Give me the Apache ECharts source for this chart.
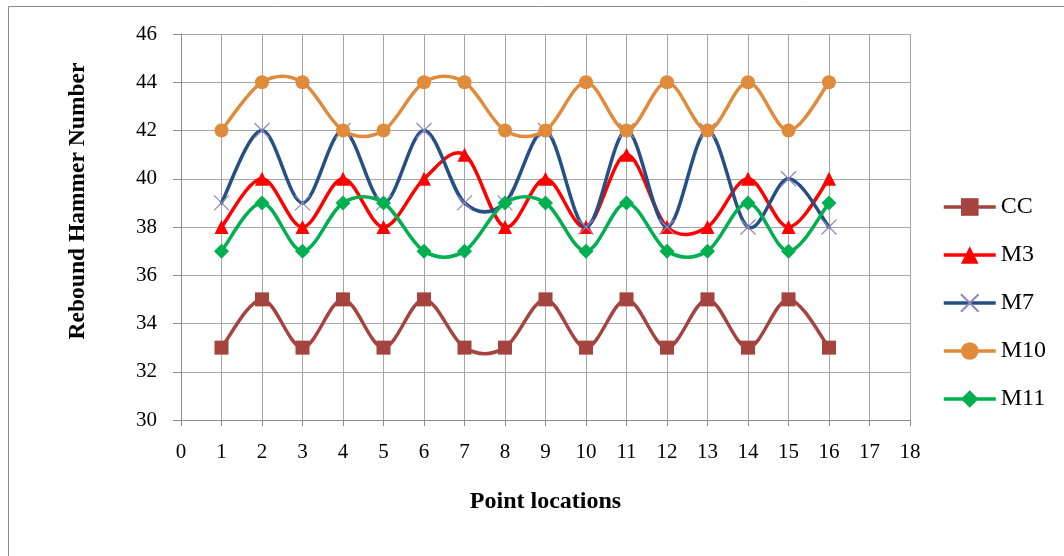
<!DOCTYPE html>
<html>
<head>
<meta charset="utf-8">
<script src="https://cdn.jsdelivr.net/npm/echarts@6/dist/echarts.min.js"></script>
<style>
html,body{margin:0;padding:0;background:#fff;}
#chart{width:1064px;height:556px;}
</style>
</head>
<body>
<div id="chart"></div>
<script>
// Rebound hammer readings at each point location
const locations = [1,2,3,4,5,6,7,8,9,10,11,12,13,14,15,16];
const cc  = [33,35,33,35,33,35,33,33,35,33,35,33,35,33,35,33];
const m3  = [38,40,38,40,38,40,41,38,40,38,41,38,38,40,38,40];
const m7  = [39,42,39,42,39,42,39,39,42,38,42,38,42,38,40,38];
const m10 = [42,44,44,42,42,44,44,42,42,44,42,44,42,44,42,44];
const m11 = [37,39,37,39,39,37,37,39,39,37,39,37,37,39,37,39];
const seriesNames = ['CC', 'M3', 'M7', 'M10', 'M11'];

const serif = '"Liberation Serif","DejaVu Serif",serif';
const pairs = arr => locations.map((x, i) => [x, arr[i]]);

// Cardinal (Catmull-Rom style) curve through the projected points,
// tension 1/6 so the curve may swing slightly past the readings.
function smoothPath(pts) {
  let d = 'M' + pts[0][0] + ' ' + pts[0][1];
  for (let i = 0; i < pts.length - 1; i++) {
    const p0 = pts[Math.max(i - 1, 0)];
    const p1 = pts[i];
    const p2 = pts[i + 1];
    const p3 = pts[Math.min(i + 2, pts.length - 1)];
    const c1x = p1[0] + (p2[0] - p0[0]) / 6, c1y = p1[1] + (p2[1] - p0[1]) / 6;
    const c2x = p2[0] - (p3[0] - p1[0]) / 6, c2y = p2[1] - (p3[1] - p1[1]) / 6;
    d += ' C' + c1x + ' ' + c1y + ' ' + c2x + ' ' + c2y + ' ' + p2[0] + ' ' + p2[1];
  }
  return d;
}

function curveSeries(arr, color, z) {
  return {
    type: 'custom',
    silent: true,
    z: z,
    data: pairs(arr),
    encode: { x: 0, y: 1 },
    renderItem: function (params, api) {
      if (params.dataIndex !== 0) return null;
      const pts = locations.map((x, i) => api.coord([x, arr[i]]));
      return {
        type: 'path',
        shape: { pathData: smoothPath(pts) },
        style: { fill: 'none', stroke: color, lineWidth: 3.5, lineJoin: 'round', lineCap: 'round' }
      };
    }
  };
}

function markerSeries(name, arr, color, symbol, size, z, itemStyle) {
  return {
    name: name,
    type: 'line',
    z: z,
    data: pairs(arr),
    symbol: symbol,
    symbolSize: size,
    showSymbol: true,
    lineStyle: { color: color, width: 3.5, opacity: 0 },
    itemStyle: itemStyle || { color: color },
    emphasis: { disabled: true }
  };
}

const specs = [
  { name: seriesNames[0], data: cc,  color: '#a5433f', symbol: 'rect',     size: 14 },
  { name: seriesNames[1], data: m3,  color: '#ff0000', symbol: 'triangle', size: 14 },
  { name: seriesNames[2], data: m7,  color: '#264f84', symbol: 'path://M0,0L10,10M10,0L0,10', size: 15,
    itemStyle: { color: 'rgba(0,0,0,0)', borderColor: '#8f86bb', borderWidth: 1.2 } },
  { name: seriesNames[3], data: m10, color: '#e08a3c', symbol: 'circle',   size: 14 },
  { name: seriesNames[4], data: m11, color: '#00af4f', symbol: 'diamond',  size: 15 }
];

const series = [];
specs.forEach((s, k) => {
  series.push(curveSeries(s.data, s.color, 2 + k * 2));
  series.push(markerSeries(s.name, s.data, s.color, s.symbol, s.size, 3 + k * 2, s.itemStyle));
});

const chart = echarts.init(document.getElementById('chart'));
chart.setOption({
  animation: false,
  backgroundColor: '#fff',
  graphic: [{
    type: 'rect',
    shape: { x: 8.5, y: 6.5, width: 1070, height: 560 },
    style: { fill: 'none', stroke: '#8c8c8c', lineWidth: 1 },
    silent: true
  }],
  grid: { left: 181, right: 154, top: 34, bottom: 136 },
  legend: {
    orient: 'vertical',
    left: 937,
    top: 190,
    itemGap: 24,
    itemWidth: 52,
    itemHeight: 22,
    textStyle: { fontFamily: serif, fontSize: 24, color: '#000' },
    data: specs.map(s => ({
      name: s.name,
      lineStyle: { color: s.color, width: 3.5, opacity: 1 }
    }))
  },
  xAxis: {
    type: 'value',
    min: 0, max: 18, interval: 1,
    name: 'Point locations',
    nameLocation: 'middle',
    nameGap: 70,
    nameTextStyle: { fontFamily: serif, fontSize: 24, fontWeight: 'bold', color: '#000' },
    axisLine: { lineStyle: { color: '#8c8c8c' } },
    axisTick: { show: true, length: 6, lineStyle: { color: '#8c8c8c' } },
    axisLabel: { fontFamily: serif, fontSize: 21, color: '#000', margin: 22 },
    splitLine: { show: true, lineStyle: { color: '#a6a6a6', width: 1 } }
  },
  yAxis: {
    type: 'value',
    min: 30, max: 46, interval: 2,
    name: 'Rebound Hammer Number',
    nameLocation: 'middle',
    nameGap: 91,
    nameRotate: 90,
    nameTextStyle: { fontFamily: serif, fontSize: 23.5, fontWeight: 'bold', color: '#000', padding: [0, 0, 0, 52] },
    axisLine: { show: true, lineStyle: { color: '#8c8c8c' } },
    axisTick: { show: true, length: 8, lineStyle: { color: '#8c8c8c' } },
    axisLabel: { fontFamily: serif, fontSize: 21, color: '#000', margin: 24 },
    splitLine: { show: true, lineStyle: { color: '#a6a6a6', width: 1 } }
  },
  series: series
});
</script>
</body>
</html>
